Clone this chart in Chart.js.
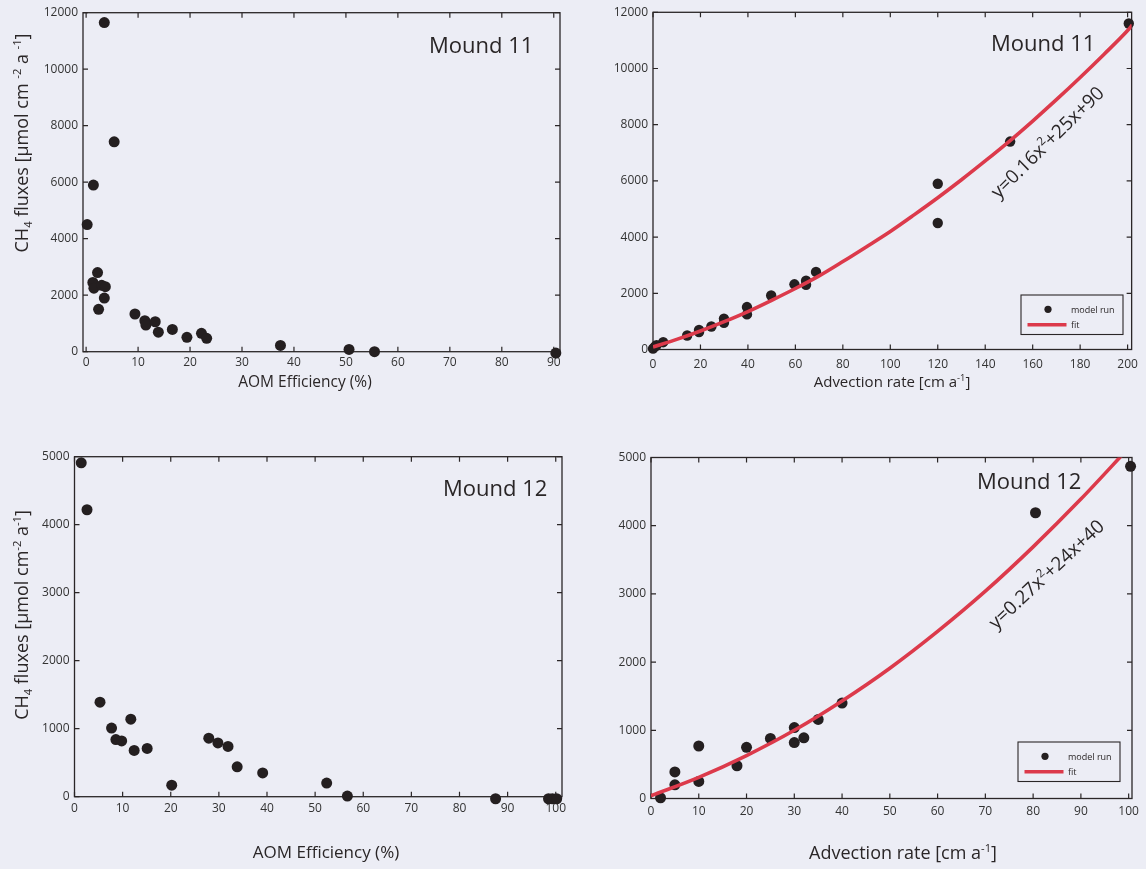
<!DOCTYPE html>
<html><head><meta charset="utf-8">
<script src="https://cdn.jsdelivr.net/npm/chart.js@4.4.1/dist/chart.umd.min.js"></script>
<style>
html,body{margin:0;padding:0;background:#ecedf5;width:1146px;height:869px;overflow:hidden}
canvas{position:absolute;left:0;top:0}
</style></head><body>
<canvas id="c1" width="1146" height="869"></canvas>
<canvas id="c2" width="1146" height="869"></canvas>
<canvas id="c3" width="1146" height="869"></canvas>
<canvas id="c4" width="1146" height="869"></canvas>
<script>
// ---------- DATA ----------
// Mound 11: AOM efficiency vs CH4 flux
const m11AomX = [3.5,5.4,1.4,0.2,2.2,1.3,1.5,3.0,3.7,3.5,2.4,9.4,11.3,11.5,13.3,13.9,16.6,19.4,22.2,23.2,37.4,50.6,55.5,90.4];
const m11AomY = [11650,7430,5900,4500,2800,2450,2250,2350,2300,1900,1500,1335,1100,945,1060,690,790,510,650,475,220,80,0,-50];
// Mound 11: advection rate vs CH4 flux
const m11AdvX = [200.5,150.5,120,120,68.7,64.5,64.5,59.6,49.8,39.6,39.6,29.9,29.9,24.6,19.4,19.4,14.4,4.3,1.5,0.8,0];
const m11AdvY = [11600,7400,5900,4500,2760,2450,2300,2320,1920,1510,1250,1100,950,820,700,620,500,260,150,100,30];
// Mound 11 fit curve
const m11FitX = [0,10,20,30,40,50,60,70,80,90,100,110,120,130,140,150,160,170,180,190,200,202];
const m11FitY = [90,360,660,990,1350,1750,2170,2620,3130,3660,4200,4790,5400,6040,6710,7400,8130,8890,9680,10500,11350,11550];
// Mound 12: AOM efficiency vs CH4 flux
const m12AomX = [1.4,2.6,5.3,7.7,8.6,9.8,11.7,12.4,15.1,20.2,27.9,29.8,31.9,33.8,39.1,52.4,56.7,87.5,98.5,99.3,100.2];
const m12AomY = [4910,4220,1390,1010,840,820,1140,680,710,170,860,790,740,440,350,200,10,-30,-30,-30,-30];
// Mound 12: advection rate vs CH4 flux
const m12AdvX = [100.4,80.5,40,35,30,32,30,25,20,18,10,10,5,5,2];
const m12AdvY = [4870,4190,1400,1160,1040,890,820,880,750,480,770,250,390,200,10];
// Mound 12 fit curve
const m12FitX = [0,10,20,30,40,50,60,70,80,90,100];
const m12FitY = [40,310,630,1000,1430,1910,2450,3040,3690,4390,5140];
// tick labels
const aom11Ticks = [0,10,20,30,40,50,60,70,80,90];
const adv11Ticks = [0,20,40,60,80,100,120,140,160,180,200];
const flux11Ticks = [0,2000,4000,6000,8000,10000,12000];
const aom12Ticks = [0,10,20,30,40,50,60,70,80,90,100];
const adv12Ticks = [0,10,20,30,40,50,60,70,80,90,100];
const flux12Ticks = [0,1000,2000,3000,4000,5000];
// texts
const mound11 = 'Mound 11', mound12 = 'Mound 12';
const legendPoint = 'model run', legendFit = 'fit';
const yTitleA = [{t:'CH'},{t:'4',s:'sub'},{t:' fluxes [µmol cm '},{t:'-2',s:'sup'},{t:' a '},{t:'-1',s:'sup'},{t:']'}];
const yTitleB = [{t:'CH'},{t:'4',s:'sub'},{t:' fluxes [µmol cm'},{t:'-2',s:'sup'},{t:' a'},{t:'-1',s:'sup'},{t:']'}];
const xTitleAom = [{t:'AOM Efficiency (%)'}];
const xTitleAdv = [{t:'Advection rate [cm a'},{t:'-1',s:'sup'},{t:']'}];
const eq11 = [{t:'y=0.16x'},{t:'2',s:'sup'},{t:'+25x+90'}];
const eq12 = [{t:'y=0.27x'},{t:'2',s:'sup'},{t:'+24x+40'}];

// ---------- DRAWING ----------
const FAMILY = '"Open Sans", "DejaVu Sans", sans-serif';
const INK = '#2a2627';
const DOT = '#241f20';
const RED = '#dc3a4b';
const W = 1146, H = 869;

function drawRich(ctx, segs, cx, cy, size, angle){
  ctx.save();
  ctx.translate(cx, cy); ctx.rotate(angle);
  let total = 0;
  const parts = segs.map(s => {
    const fs = s.s ? size*0.62 : size;
    ctx.font = fs + 'px ' + FAMILY;
    const w = ctx.measureText(s.t).width;
    total += w;
    return {t:s.t, fs, w, dy: s.s==='sup' ? -size*0.40 : (s.s==='sub' ? size*0.22 : 0)};
  });
  let x = -total/2;
  ctx.fillStyle = INK; ctx.textBaseline = 'alphabetic'; ctx.textAlign = 'left';
  parts.forEach(p => { ctx.font = p.fs + 'px ' + FAMILY; ctx.fillText(p.t, x, size*0.36 + p.dy); x += p.w; });
  ctx.restore();
}

function makePanel(id, c){
  const Wy = 60, Hx = 30;
  const datasets = [];
  if (c.fitX) {
    datasets.push({type:'line', data:c.fitX.map((x,i)=>({x, y:c.fitY[i]})), borderColor:RED, borderWidth:3.6,
      pointRadius:0, cubicInterpolationMode:'monotone', fill:false});
  }
  datasets.push({type:'scatter', data:c.px.map((x,i)=>({x, y:c.py[i]})), backgroundColor:DOT, borderColor:DOT,
    borderWidth:0, pointRadius:c.r, clip:false});
  const plugin = {
    id:'deco'+id,
    beforeDatasetsDraw(chart){
      const {ctx, chartArea:a, scales:{x,y}} = chart;
      ctx.save();
      ctx.strokeStyle = INK; ctx.lineWidth = 1.3;
      ctx.strokeRect(a.left, a.top, a.right-a.left, a.bottom-a.top);
      ctx.lineWidth = 1.2; ctx.beginPath();
      x.ticks.forEach(t => { const p = x.getPixelForValue(t.value);
        ctx.moveTo(p, a.bottom); ctx.lineTo(p, a.bottom-5); ctx.moveTo(p, a.top); ctx.lineTo(p, a.top+5); });
      y.ticks.forEach(t => { const p = y.getPixelForValue(t.value);
        ctx.moveTo(a.left, p); ctx.lineTo(a.left+5, p); ctx.moveTo(a.right, p); ctx.lineTo(a.right-5, p); });
      ctx.stroke(); ctx.restore();
    },
    afterDatasetsDraw(chart){
      const ctx = chart.ctx;
      ctx.save();
      ctx.fillStyle = INK; ctx.font = '22px ' + FAMILY; ctx.textAlign = 'left'; ctx.textBaseline = 'middle';
      ctx.fillText(c.title, c.titlePos[0], c.titlePos[1]);
      ctx.restore();
      if (c.yTitle) drawRich(ctx, c.yTitle, c.yTitlePos[0], c.yTitlePos[1], c.yTitleSize, -Math.PI/2);
      drawRich(ctx, c.xTitle, c.xTitlePos[0], c.xTitlePos[1], c.xTitleSize, 0);
      if (c.eq) drawRich(ctx, c.eq, c.eqPos[0], c.eqPos[1], 19, c.eqAngle);
      if (c.legend) {
        const [lx, ly] = c.legend;
        ctx.save();
        ctx.strokeStyle = INK; ctx.lineWidth = 1.1;
        ctx.strokeRect(lx, ly, 102, 39.5);
        ctx.fillStyle = DOT; ctx.beginPath(); ctx.arc(lx+27, ly+14.3, 3.6, 0, Math.PI*2); ctx.fill();
        ctx.strokeStyle = RED; ctx.lineWidth = 3.6; ctx.beginPath();
        ctx.moveTo(lx+6.5, ly+29.8); ctx.lineTo(lx+45.5, ly+29.8); ctx.stroke();
        ctx.fillStyle = INK; ctx.font = '9px ' + FAMILY; ctx.textBaseline = 'middle'; ctx.textAlign = 'left';
        ctx.fillText(legendPoint, lx+50, ly+15);
        ctx.fillText(legendFit, lx+50, ly+30.5);
        ctx.restore();
      }
    }
  };
  const tickFont = {family: FAMILY, size: 12};
  new Chart(document.getElementById(id), {
    data:{datasets},
    options:{
      responsive:false, animation:false, events:[],
      layout:{padding:{left:c.area[0]-Wy, top:c.area[1], right:W-c.area[2], bottom:H-c.area[3]-Hx}},
      plugins:{legend:{display:false}, tooltip:{enabled:false}},
      scales:{
        x:{type:'linear', position:'bottom', min:c.xr[0], max:c.xr[1],
           grid:{display:false, drawTicks:false}, border:{display:false},
           afterBuildTicks:s => { s.ticks = c.xt.map(v=>({value:v})); },
           afterFit:s => { s.height = Hx; },
           ticks:{autoSkip:false, maxRotation:0, padding:c.xpad, color:'#333', font:tickFont, callback:v => String(v)}},
        y:{type:'linear', position:'left', min:c.yr[0], max:c.yr[1],
           grid:{display:false, drawTicks:false}, border:{display:false},
           afterBuildTicks:s => { s.ticks = c.yt.map(v=>({value:v})); },
           afterFit:s => { s.width = Wy; },
           ticks:{autoSkip:false, padding:5, color:'#333', font:tickFont, callback:v => String(v)}}
      }
    },
    plugins:[plugin]
  });
}

makePanel('c1', {area:[83,12.7,560,351.7], xr:[-0.6,91.2], yr:[0,12000], xt:aom11Ticks, yt:flux11Ticks,
  px:m11AomX, py:m11AomY, r:5.5, xpad:4,
  title:mound11, titlePos:[429,47],
  yTitle:yTitleA, yTitlePos:[22,143], yTitleSize:18,
  xTitle:xTitleAom, xTitlePos:[305,381], xTitleSize:15.5});

makePanel('c2', {area:[653,12.3,1133,349.5], xr:[0,201.7], yr:[0,12000], xt:adv11Ticks, yt:flux11Ticks,
  px:m11AdvX, py:m11AdvY, r:5.2, xpad:8, fitX:m11FitX, fitY:m11FitY,
  title:mound11, titlePos:[991,45],
  xTitle:xTitleAdv, xTitlePos:[892,382], xTitleSize:15,
  eq:eq11, eqPos:[1047,142], eqAngle:-44.5*Math.PI/180, legend:[1021,295]});

makePanel('c3', {area:[74.5,456.7,562,796.7], xr:[0,101.3], yr:[0,5000], xt:aom12Ticks, yt:flux12Ticks,
  px:m12AomX, py:m12AomY, r:5.5, xpad:5,
  title:mound12, titlePos:[443,490],
  yTitle:yTitleB, yTitlePos:[22,615], yTitleSize:18,
  xTitle:xTitleAom, xTitlePos:[326,852], xTitleSize:17});

makePanel('c4', {area:[651,457.5,1132,798.5], xr:[0,100.7], yr:[0,5000], xt:adv12Ticks, yt:flux12Ticks,
  px:m12AdvX, py:m12AdvY, r:5.5, xpad:6, fitX:m12FitX, fitY:m12FitY,
  title:mound12, titlePos:[977,483],
  xTitle:xTitleAdv, xTitlePos:[903,853], xTitleSize:18,
  eq:eq12, eqPos:[1046,574], eqAngle:-43*Math.PI/180, legend:[1018,742]});
</script>
</body></html>
